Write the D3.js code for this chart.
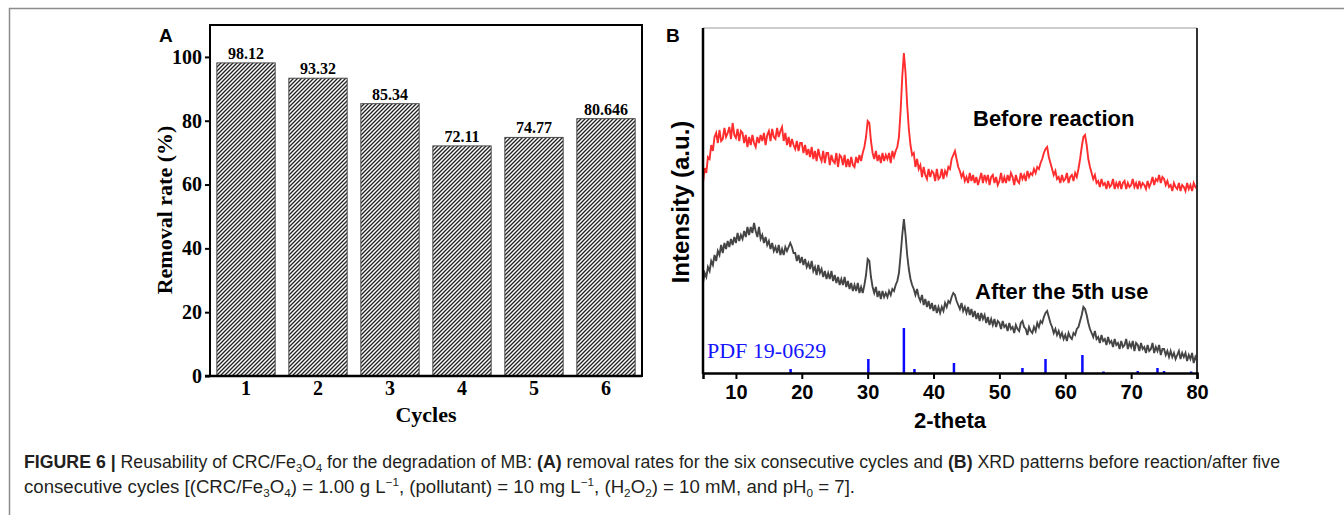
<!DOCTYPE html>
<html>
<head>
<meta charset="utf-8">
<script src="https://cdn.jsdelivr.net/npm/d3@7"></script>
<style>
  body { margin: 0; background: #fff; }
  svg { display: block; }
</style>
</head>
<body>
<svg id="fig" width="1344" height="515"></svg>
<script>
// ---------- panel A: removal rate per cycle ----------
const cycles = [1, 2, 3, 4, 5, 6];
const removalRate = [98.12, 93.32, 85.34, 72.11, 74.77, 80.646];
const rateLabels = ["98.12", "93.32", "85.34", "72.11", "74.77", "80.646"];
const rateTicks = [0, 20, 40, 60, 80, 100];

// ---------- panel B: XRD patterns, read every 0.25 deg from 5 to 80 ----------
const thetaStart = 5, thetaStep = 0.25;
const beforeReaction = [
  190,205,200,216, 214,228,222,236, 240,230,243,232, 234,245,236,240, 246,234,250,238,
  235,244,232,242, 240,230,238,226, 236,228,238,230, 226,236,230,238, 232,240,228,238,
  242,232,244,236, 234,245,236,242, 246,232,240,228, 236,226,234,228, 224,232,222,230,
  230,220,228,218, 224,216,226,214, 222,212,224,216, 212,222,210,220, 220,208,218,212,
  210,220,206,218, 216,208,218,206, 214,206,216,208, 206,216,210,218, 212,220,226,236,
  252,250,232,220, 214,222,212,218, 210,220,212,218, 214,220,210,222, 216,222,226,236,
  262,296,320,300, 268,244,228,218, 220,206,214,204, 208,196,206,198, 194,204,196,202,
  200,192,204,194, 196,204,194,202, 198,206,204,214, 218,222,214,206, 202,196,200,192,
  196,190,200,192, 198,190,196,188, 194,200,190,198, 192,198,188,196, 198,190,196,188,
  192,200,190,196, 190,198,192,200, 196,188,198,192, 190,200,194,198, 192,202,196,200,
  198,204,200,206, 204,210,214,220, 224,226,216,210, 204,198,202,194, 196,190,198,192,
  194,200,190,196, 198,192,200,196, 204,214,226,236, 238,228,214,206, 200,194,198,190,
  192,186,194,188, 190,184,192,186, 188,194,184,190, 186,192,184,190, 192,184,190,186,
  188,194,186,190, 184,192,186,190, 188,184,192,186, 190,196,188,194, 192,198,190,196,
  194,188,192,186, 188,182,190,186, 184,190,182,188, 186,182,190,184, 188,182,190,186,
  184
];
const afterUse = [
  90,100,96,106, 102,112,108,118, 112,122,118,128, 120,130,124,132, 126,134,128,136,
  130,140,132,138, 134,142,136,146, 138,146,140,150, 142,136,146,134, 138,130,136,128,
  132,124,130,122, 126,120,128,118, 124,118,126,122, 126,130,126,120, 120,112,118,110,
  116,108,114,106, 110,104,112,102, 106,98,108,100, 104,96,102,94, 100,94,102,92,
  98,90,96,88, 94,88,96,86, 92,84,90,82, 88,82,90,80, 86,80,88,98,
  114,112,96,86, 80,86,76,82, 74,82,76,80, 76,82,78,84, 82,88,92,100,
  118,138,154,138, 118,104,94,88, 84,78,84,76, 72,78,68,74, 66,72,64,70,
  62,68,60,66, 60,66,62,70, 66,72,70,76, 80,78,72,68, 64,70,62,66,
  60,66,58,64, 56,62,54,60, 52,60,54,58, 50,56,48,54, 48,54,46,52,
  50,44,52,46, 48,42,50,44, 46,40,48,44, 42,50,52,46, 44,38,46,42,
  40,46,42,50, 46,52,50,56, 60,62,56,50, 46,40,44,38, 42,36,40,34,
  38,32,40,36, 34,40,38,44, 46,52,58,66, 64,58,50,44, 40,36,42,34,
  36,30,38,32, 34,28,36,30, 32,26,34,28, 30,24,32,26, 28,34,24,30,
  26,32,22,30, 28,22,30,24, 26,20,28,22, 24,30,20,26, 22,28,18,24,
  24,18,22,16, 22,16,20,14, 18,22,14,20, 16,20,12,18, 14,20,10,16,
  12
];
const pdfPos = [18.3, 30.1, 35.5, 37.1, 43.1, 53.5, 57.0, 62.6, 65.8, 71.0, 74.0, 75.0, 79.1];
const pdfInt = [4, 14, 45, 4, 10, 5, 14, 18, 1.5, 2, 5, 2, 1.5];
const thetaTicks = [10, 20, 30, 40, 50, 60, 70, 80];

const svg = d3.select("#fig");
const serif = "'Liberation Serif', 'Times New Roman', serif";
const sans = "'Liberation Sans', Arial, sans-serif";

// outer page frame
svg.append("line").attr("x1", 9).attr("x2", 1344).attr("y1", 8.5).attr("y2", 8.5)
  .attr("stroke", "#8c8c8c").attr("stroke-width", 1.5);
svg.append("line").attr("x1", 9.5).attr("x2", 9.5).attr("y1", 8).attr("y2", 515)
  .attr("stroke", "#8c8c8c").attr("stroke-width", 1.5);

// hatch pattern for bars
const defs = svg.append("defs");
const hatch = defs.append("pattern").attr("id", "hatch")
  .attr("patternUnits", "userSpaceOnUse").attr("width", 4).attr("height", 4);
hatch.append("rect").attr("width", 4).attr("height", 4).attr("fill", "#fff");
hatch.append("path").attr("d", "M-1,1 l2,-2 M0,4 l4,-4 M3,5 l2,-2")
  .attr("stroke", "#222").attr("stroke-width", 1.35);

// ****************************************
//             PANEL A
// ****************************************
const a = {left: 210, right: 642, top: 25, bottom: 376};
const xA = d3.scaleBand().domain(cycles).range([a.left, a.right])
  .paddingInner(0.19).paddingOuter(0.095);
const yA = d3.scaleLinear().domain([0, 110]).range([a.bottom, a.top]);

const gA = svg.append("g");
gA.selectAll(".bar").data(cycles).enter().append("rect")
  .attr("class", "bar")
  .attr("x", d => xA(d))
  .attr("width", xA.bandwidth())
  .attr("y", (d, i) => yA(removalRate[i]))
  .attr("height", (d, i) => yA(0) - yA(removalRate[i]))
  .attr("fill", "url(#hatch)")
  .attr("stroke", "#4a4a4a").attr("stroke-width", 1);

gA.selectAll(".val").data(cycles).enter().append("text")
  .attr("class", "val")
  .attr("x", d => xA(d) + xA.bandwidth() / 2)
  .attr("y", (d, i) => yA(removalRate[i]) - 4)
  .attr("text-anchor", "middle")
  .style("font", `bold 16px ${serif}`)
  .text((d, i) => rateLabels[i]);

// frame
gA.append("rect").attr("x", a.left).attr("y", a.top)
  .attr("width", a.right - a.left).attr("height", a.bottom - a.top)
  .attr("fill", "none").attr("stroke", "#000").attr("stroke-width", 2);
gA.append("line").attr("x1", a.left - 5).attr("x2", a.right)
  .attr("y1", a.bottom).attr("y2", a.bottom).attr("stroke", "#000").attr("stroke-width", 2.5);

const yAxisA = gA.append("g").attr("transform", `translate(${a.left},0)`)
  .call(d3.axisLeft(yA).tickValues(rateTicks).tickSize(5).tickPadding(3));
yAxisA.select(".domain").remove();
yAxisA.selectAll("line").attr("stroke-width", 2);
yAxisA.selectAll("text").style("font", `bold 20px ${serif}`).attr("fill", "#000");

const xAxisA = gA.append("g").attr("transform", `translate(0,${a.bottom})`)
  .call(d3.axisBottom(xA).tickSize(0).tickPadding(5));
xAxisA.select(".domain").remove();
xAxisA.selectAll("text").style("font", `bold 20px ${serif}`).attr("fill", "#000");

gA.append("text").attr("x", (a.left + a.right) / 2).attr("y", 422)
  .attr("text-anchor", "middle").style("font", `bold 22px ${serif}`).text("Cycles");
gA.append("text").attr("transform", "translate(172,210) rotate(-90)")
  .attr("text-anchor", "middle").style("font", `bold 22px ${serif}`).text("Removal rate (%)");
gA.append("text").attr("x", 159).attr("y", 42).style("font", `bold 19px ${sans}`).text("A");

// ****************************************
//             PANEL B
// ****************************************
const b = {left: 703, right: 1197, top: 28, bottom: 373};
const xB = d3.scaleLinear().domain([5, 80]).range([b.left, b.right]);
const yB = d3.scaleLinear().domain([0, 345]).range([b.bottom, b.top]);

defs.append("clipPath").attr("id", "clipB").append("rect")
  .attr("x", b.left).attr("y", b.top).attr("width", b.right - b.left).attr("height", b.bottom - b.top);

const gB = svg.append("g");
const xrdLine = d3.line()
  .x((d, i) => xB(thetaStart + i * thetaStep))
  .y(d => yB(d));

const plotB = gB.append("g").attr("clip-path", "url(#clipB)");
plotB.append("path").datum(beforeReaction).attr("d", xrdLine)
  .attr("fill", "none").attr("stroke", "#ff2d2d").attr("stroke-width", 1.9);
plotB.append("path").datum(afterUse).attr("d", xrdLine)
  .attr("fill", "none").attr("stroke", "#454545").attr("stroke-width", 1.9);
plotB.selectAll(".pdf").data(pdfPos).enter().append("line")
  .attr("class", "pdf")
  .attr("x1", d => xB(d)).attr("x2", d => xB(d))
  .attr("y1", yB(0)).attr("y2", (d, i) => yB(pdfInt[i]))
  .attr("stroke", "#0a0aff").attr("stroke-width", 2.5);

// frame
gB.append("line").attr("x1", b.left).attr("x2", b.right).attr("y1", b.top).attr("y2", b.top)
  .attr("stroke", "#9a9a9a").attr("stroke-width", 1);
gB.append("line").attr("x1", b.right).attr("x2", b.right).attr("y1", b.top).attr("y2", b.bottom)
  .attr("stroke", "#333").attr("stroke-width", 2);
gB.append("line").attr("x1", b.left).attr("x2", b.left).attr("y1", b.top).attr("y2", b.bottom + 1)
  .attr("stroke", "#000").attr("stroke-width", 2.5);

const xAxisB = gB.append("g").attr("transform", `translate(0,${b.bottom})`)
  .call(d3.axisBottom(xB).tickValues(thetaTicks).tickSize(6).tickPadding(6));
xAxisB.select(".domain").attr("stroke-width", 2.5);
xAxisB.selectAll("line").attr("stroke-width", 2);
xAxisB.selectAll("text").style("font", `bold 20px ${sans}`).attr("fill", "#000");

gB.append("text").attr("x", 950).attr("y", 428).attr("text-anchor", "middle")
  .style("font", `bold 22px ${sans}`).text("2-theta");
gB.append("text").attr("transform", "translate(689,202) rotate(-90)")
  .attr("text-anchor", "middle").style("font", `bold 24px ${sans}`).text("Intensity (a.u.)");
gB.append("text").attr("x", 973).attr("y", 126).style("font", `bold 22px ${sans}`).text("Before reaction");
gB.append("text").attr("x", 975).attr("y", 299).style("font", `bold 22px ${sans}`).text("After the 5th use");
gB.append("text").attr("x", 707).attr("y", 358).attr("fill", "#1414ff")
  .style("font", `22px ${serif}`).text("PDF 19-0629");
gB.append("text").attr("x", 666).attr("y", 42).style("font", `bold 19px ${sans}`).text("B");

// ****************************************
//             CAPTION
// ****************************************
const capFont = "'Liberation Sans Narrow', 'Arial Narrow', 'Liberation Sans', sans-serif";
function caption(y, len, parts) {
  const t = svg.append("text").attr("x", 24).attr("y", y)
    .attr("textLength", len).attr("lengthAdjust", "spacingAndGlyphs")
    .attr("fill", "#231f20").style("font-family", capFont).style("font-size", "17.5px");
  parts.forEach(p => {
    const s = t.append("tspan").text(p.t);
    if (p.b) s.attr("font-weight", "bold");
    if (p.sub) s.attr("dy", 4).attr("font-size", 11);
    if (p.sup) s.attr("dy", -7).attr("font-size", 11);
    if (p.back) s.attr("dy", p.back);
  });
}
caption(468, 1256, [
  {t: "FIGURE 6 |", b: true}, {t: " Reusability of CRC/Fe"}, {t: "3", sub: true},
  {t: "O", back: -4}, {t: "4", sub: true}, {t: " for the degradation of MB: ", back: -4},
  {t: "(A)", b: true}, {t: " removal rates for the six consecutive cycles and "},
  {t: "(B)", b: true}, {t: " XRD patterns before reaction/after five"}
]);
caption(493, 831, [
  {t: "consecutive cycles [(CRC/Fe"}, {t: "3", sub: true}, {t: "O", back: -4}, {t: "4", sub: true},
  {t: ") = 1.00 g L", back: -4}, {t: "\u22121", sup: true}, {t: ", (pollutant) = 10 mg L", back: 7},
  {t: "\u22121", sup: true}, {t: ", (H", back: 7}, {t: "2", sub: true}, {t: "O", back: -4},
  {t: "2", sub: true}, {t: ") = 10 mM, and pH", back: -4}, {t: "0", sub: true}, {t: " = 7].", back: -4}
]);
</script>
</body>
</html>
